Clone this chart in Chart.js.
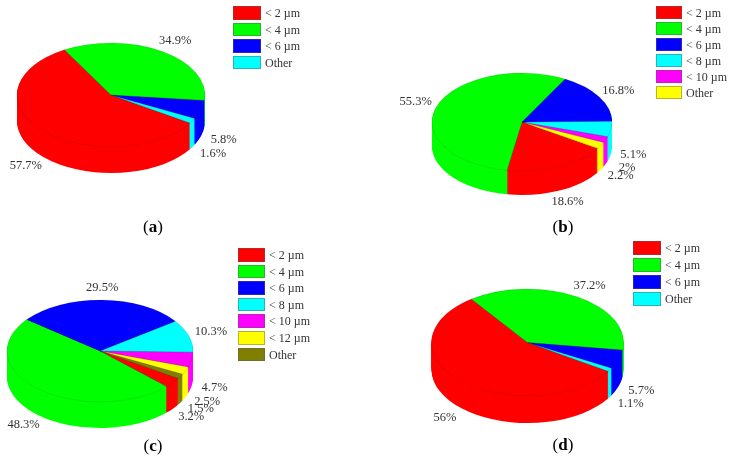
<!DOCTYPE html>
<html>
<head>
<meta charset="utf-8">
<script src="https://cdn.jsdelivr.net/npm/chart.js@4"></script>
<style>
  html, body { margin: 0; padding: 0; background: #fff; }
  #page { position: relative; width: 729px; height: 459px; overflow: hidden; font-family: "Liberation Serif", serif; color: #333; }
  #page canvas { position: absolute; left: 0; top: 0; }
  .box { position: absolute; box-sizing: border-box; border: 1px solid rgba(90, 90, 90, 0.45); }
  .leg { position: absolute; font-size: 12px; line-height: 14px; white-space: nowrap; }
  .cap { position: absolute; font-size: 17px; line-height: 20px; color: #000; transform: translateX(-50%); }
</style>
</head>
<body>
<div id="page"></div>
<script>
const labelsA = ["< 2 µm", "< 4 µm", "< 6 µm", "Other"]
const valuesA = [57.7, 34.9, 5.8, 1.6]
const labelsB = ["< 2 µm", "< 4 µm", "< 6 µm", "< 8 µm", "< 10 µm", "Other"]
const valuesB = [18.6, 55.3, 16.8, 5.1, 2, 2.2]
const labelsC = ["< 2 µm", "< 4 µm", "< 6 µm", "< 8 µm", "< 10 µm", "< 12 µm", "Other"]
const valuesC = [3.2, 48.3, 29.5, 10.3, 4.7, 2.5, 1.5]
const labelsD = ["< 2 µm", "< 4 µm", "< 6 µm", "Other"]
const valuesD = [56, 37.2, 5.7, 1.1]

const coloursAD = ["#ff0000", "#00ff00", "#0000ff", "#00ffff"]
const coloursB = ["#ff0000", "#00ff00", "#0000ff", "#00ffff", "#ff00ff", "#ffff00"]
const coloursC = ["#ff0000", "#00ff00", "#0000ff", "#00ffff", "#ff00ff", "#ffff00", "#808000"]

const startAngle = 122.6

// where each tilted disc and its legend sit on the page
const panels = [
  { name: "a", labels: labelsA, values: valuesA, colours: coloursAD,
    disc: { cx: 111, cy: 95, rx: 94, ry: 52, depth: 26 },
    legend: { x: 233, y: 6, w: 28, h: 13.5, step: 16.6 }, caption: { x: 153, y: 217 } },
  { name: "b", labels: labelsB, values: valuesB, colours: coloursB,
    disc: { cx: 522, cy: 122, rx: 90, ry: 49, depth: 24 },
    legend: { x: 656, y: 6, w: 26, h: 13, step: 16 }, caption: { x: 563, y: 217 } },
  { name: "c", labels: labelsC, values: valuesC, colours: coloursC,
    disc: { cx: 100, cy: 351, rx: 93, ry: 51, depth: 26 },
    legend: { x: 238, y: 248, w: 27, h: 13.5, step: 16.6 }, caption: { x: 153, y: 436 } },
  { name: "d", labels: labelsD, values: valuesD, colours: coloursAD,
    disc: { cx: 527.5, cy: 342.5, rx: 96, ry: 53.5, depth: 27 },
    legend: { x: 633, y: 241, w: 28, h: 14, step: 17 }, caption: { x: 563, y: 435 } },
]

function tilt(ctx, arc, disc, drop) {
  const s = arc.outerRadius
  ctx.translate(disc.cx, disc.cy + drop)
  ctx.scale(disc.rx / s, disc.ry / s)
  ctx.translate(-arc.x, -arc.y)
}

// squashes the pie into an ellipse and stacks copies of it for the rim
const discPlugin = {
  id: "disc",
  beforeDatasetsDraw(chart, args, opts) {
    const ctx = chart.ctx
    const arcs = chart.getDatasetMeta(0).data
    for (let d = opts.depth; d >= 1; d--) {
      ctx.save()
      tilt(ctx, arcs[0], opts, d)
      arcs.forEach((arc) => arc.draw(ctx))
      ctx.restore()
    }
    ctx.save()
    tilt(ctx, arcs[0], opts, 0)
  },
  afterDatasetsDraw(chart, args, opts) {
    const ctx = chart.ctx
    ctx.restore()
    const arcs = chart.getDatasetMeta(0).data
    const { cx, cy, rx, ry, depth } = opts

    // thin wedge edges
    ctx.save()
    ctx.strokeStyle = "rgba(0, 0, 0, 0.15)"
    ctx.lineWidth = 0.7
    arcs.forEach((arc) => {
      ctx.beginPath()
      ctx.moveTo(cx, cy)
      ctx.ellipse(cx, cy, rx, ry, 0, arc.startAngle, arc.endAngle)
      ctx.closePath()
      ctx.stroke()
    })
    ctx.restore()

    // percentage labels, pushed out past the rim
    ctx.save()
    ctx.font = '12.5px "Liberation Serif"'
    ctx.fillStyle = "#333"
    ctx.textAlign = "center"
    ctx.textBaseline = "middle"
    arcs.forEach((arc, i) => {
      const mid = (arc.startAngle + arc.endAngle) / 2
      const x = cx + 1.25 * rx * Math.cos(mid)
      const y = cy + 1.25 * ry * Math.sin(mid) + (Math.sin(mid) > 0 ? depth : 0)
      ctx.fillText(chart.data.datasets[0].data[i] + "%", x, y)
    })
    ctx.restore()
  },
}

const page = document.getElementById("page")

panels.forEach((p) => {
  const canvas = document.createElement("canvas")
  canvas.width = 729
  canvas.height = 459
  canvas.style.width = "729px"
  canvas.style.height = "459px"
  page.appendChild(canvas)

  new Chart(canvas.getContext("2d"), {
    type: "pie",
    data: {
      labels: p.labels,
      datasets: [
        {
          data: p.values,
          backgroundColor: p.colours,
          borderWidth: 0,
          clip: false,
        },
      ],
    },
    options: {
      responsive: false,
      animation: false,
      events: [],
      rotation: startAngle,
      plugins: {
        legend: { display: false },
        tooltip: { enabled: false },
        disc: p.disc,
      },
    },
    plugins: [discPlugin],
  })

  // legend
  p.labels.forEach((label, i) => {
    const box = document.createElement("div")
    box.className = "box"
    box.style.left = p.legend.x + "px"
    box.style.top = p.legend.y + i * p.legend.step + "px"
    box.style.width = p.legend.w + "px"
    box.style.height = p.legend.h + "px"
    box.style.background = p.colours[i]
    page.appendChild(box)

    const text = document.createElement("div")
    text.className = "leg"
    text.style.left = p.legend.x + p.legend.w + 4 + "px"
    text.style.top = p.legend.y + i * p.legend.step + "px"
    text.textContent = label
    page.appendChild(text)
  })

  const cap = document.createElement("div")
  cap.className = "cap"
  cap.style.left = p.caption.x + "px"
  cap.style.top = p.caption.y + "px"
  cap.innerHTML = "(<b>" + p.name + "</b>)"
  page.appendChild(cap)
})
</script>
</body>
</html>
